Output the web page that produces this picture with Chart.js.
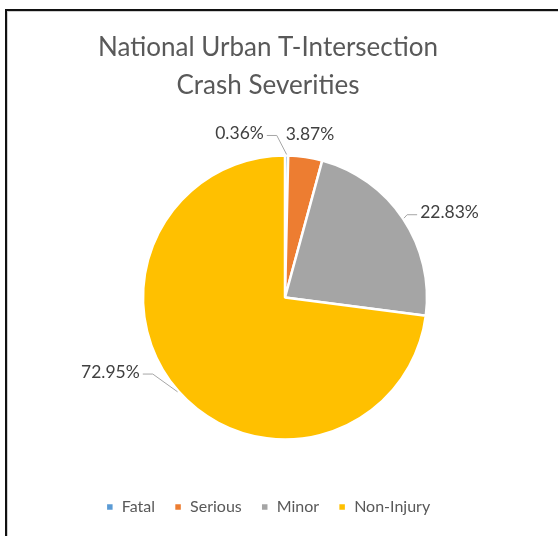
<!DOCTYPE html>
<html>
<head>
<meta charset="utf-8">
<script src="https://cdn.jsdelivr.net/npm/chart.js@4/dist/chart.umd.min.js"></script>
<style>
  html, body { margin: 0; padding: 0; background: #fff; }
  #wrap { position: relative; width: 558px; height: 536px; overflow: hidden; }
  #frame {
    position: absolute; left: 5px; top: 9px; width: 600px; height: 600px;
    border-top: 2px solid #111; border-left: 2px solid #111;
    box-shadow: inset 1px 1px 0 #cfcfcf; pointer-events: none;
  }
  canvas { position: absolute; left: 0; top: 0; }
</style>
</head>
<body>
<div id="wrap">
  <canvas id="chart" width="558" height="536"></canvas>
  <div id="frame"></div>
</div>
<script>
// chart data
const categories = ['Fatal', 'Serious', 'Minor', 'Non-Injury'];
const severityShares = [0.36, 3.87, 22.83, 72.95];
const sliceColors = ['#5B9BD5', '#ED7D31', '#A5A5A5', '#FFC000'];
const titleLines = ['National Urban T-Intersection', 'Crash Severities'];

Chart.defaults.font.family = 'Lato, "Open Sans", sans-serif';
Chart.defaults.color = '#595959';

// move the pie sideways without moving title / legend
const shiftPie = {
  id: 'shiftPie',
  afterLayout(chart, args, opts) {
    const dx = opts.dx || 0;
    chart.chartArea.left += dx;
    chart.chartArea.right += dx;
  }
};

// excel style data labels with leader lines
const sliceLabels = {
  id: 'sliceLabels',
  afterDatasetsDraw(chart, args, opts) {
    const ctx = chart.ctx;
    const meta = chart.getDatasetMeta(0);
    const values = chart.data.datasets[0].data;
    ctx.save();
    ctx.font = opts.font;
    ctx.textBaseline = 'middle';
    meta.data.forEach((arc, i) => {
      const p = arc.getProps(['x', 'y', 'startAngle', 'endAngle', 'outerRadius'], true);
      const mid = (p.startAngle + p.endAngle) / 2;
      const r = p.outerRadius + 18;
      const nudge = opts.nudges[i];
      const tx = p.x + Math.cos(mid) * r + nudge[0];
      const ty = p.y + Math.sin(mid) * r + nudge[1];
      const align = opts.aligns[i];
      const text = values[i].toFixed(2) + '%';

      if (opts.leaders[i]) {
        let sx;
        let dir;
        if (align === 'right') { sx = tx + 3; dir = 1; }
        else if (align === 'left') { sx = tx - 3; dir = -1; }
        else { sx = tx; dir = 0; }
        const rx = p.x + Math.cos(mid) * (p.outerRadius + 1);
        const ry = p.y + Math.sin(mid) * (p.outerRadius + 1);
        ctx.strokeStyle = opts.lineColor;
        ctx.lineWidth = 1;
        ctx.beginPath();
        ctx.moveTo(sx, ty + 2);
        ctx.lineTo(sx + dir * 10, ty + 2);
        ctx.lineTo(rx, ry);
        ctx.stroke();
      }

      ctx.fillStyle = opts.color;
      ctx.textAlign = align;
      ctx.fillText(text, tx, ty);
    });
    ctx.restore();
  }
};

new Chart(document.getElementById('chart'), {
  type: 'pie',
  data: {
    labels: categories,
    datasets: [{
      data: severityShares,
      backgroundColor: sliceColors,
      borderColor: '#ffffff',
      borderWidth: 2.5,
      radius: 142,
      hoverOffset: 0
    }]
  },
  options: {
    responsive: false,
    animation: false,
    layout: { padding: { left: 0, right: 22, top: 0, bottom: 11 } },
    plugins: {
      title: {
        display: true,
        text: titleLines,
        color: '#595959',
        font: { size: 26, weight: 'normal', lineHeight: 1.46 },
        padding: { top: 29, bottom: 10 }
      },
      legend: {
        position: 'bottom',
        labels: {
          boxWidth: 8,
          boxHeight: 8,
          padding: 19,
          color: '#595959',
          font: { size: 16 }
        }
      },
      tooltip: { enabled: false },
      shiftPie: { dx: 17 },
      sliceLabels: {
        font: '17.5px Lato, "Open Sans", sans-serif',
        color: '#404040',
        lineColor: '#a6a6a6',
        aligns: ['right', 'center', 'left', 'right'],
        nudges: [[-23, -4], [2, -5], [2, 4], [-25, -31]],
        leaders: [true, false, true, true]
      }
    }
  },
  plugins: [shiftPie, sliceLabels]
});
</script>
</body>
</html>
